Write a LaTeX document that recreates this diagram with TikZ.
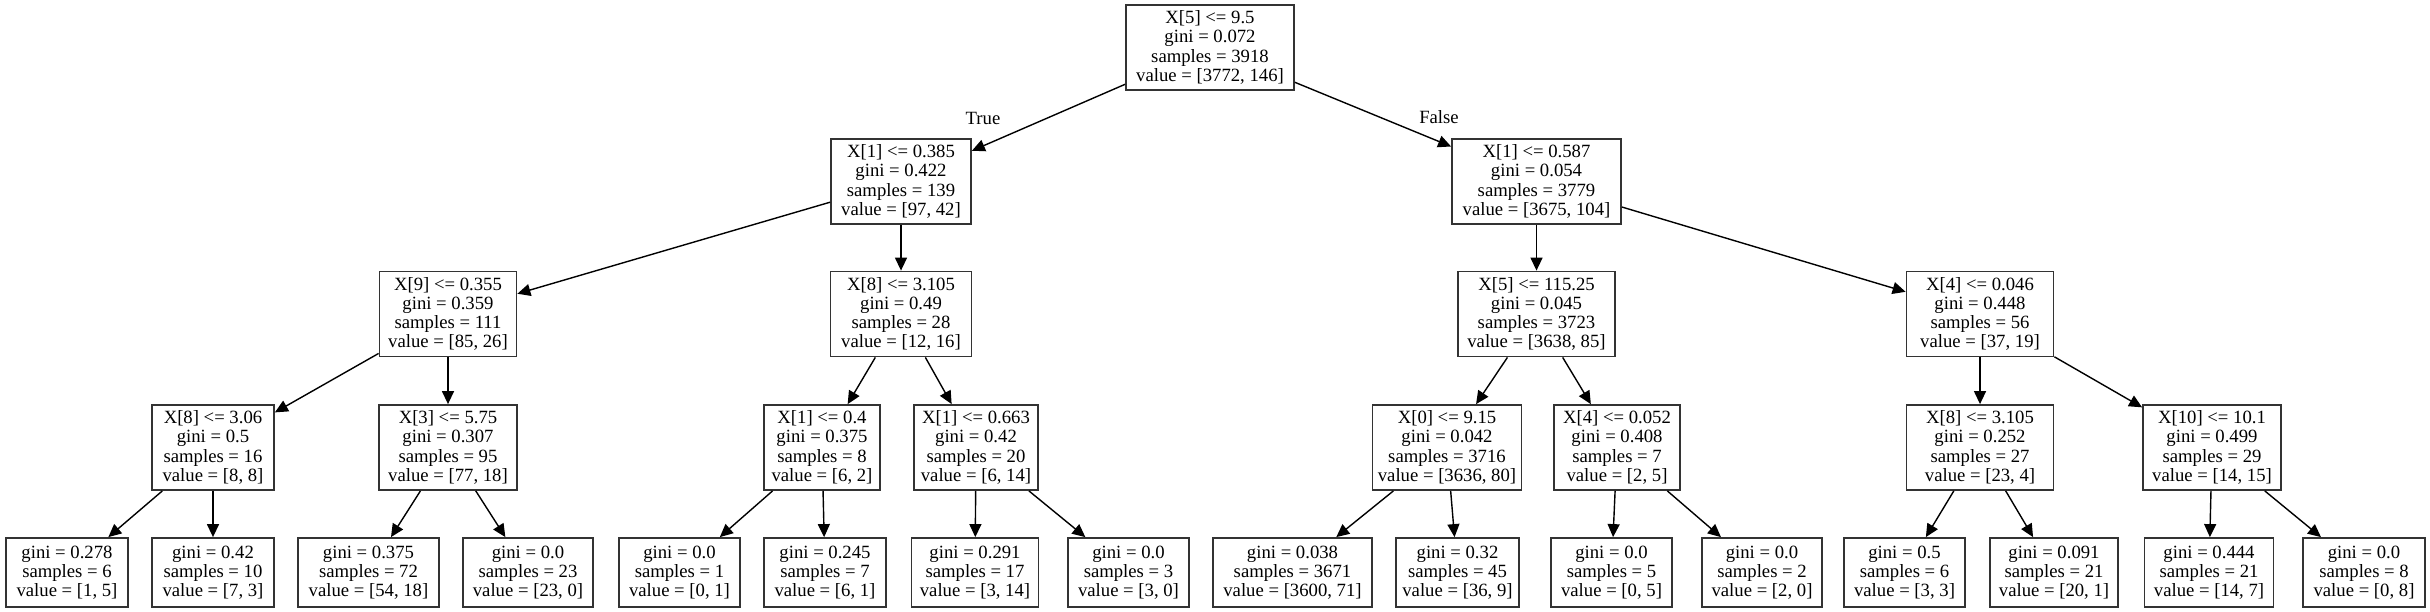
\documentclass[tikz,border=0pt]{standalone}
\usepackage{fontspec}
\setmainfont{Liberation Serif}
\usetikzlibrary{arrows.meta}
\tikzset{
  tbox/.style={draw=black!80, line width=0.9pt, rectangle, align=center, inner sep=0pt,
    font=\fontsize{9.35}{9.6}\selectfont, fill=white},
  inner/.style={tbox, minimum height=42.5pt},
  leaf/.style={tbox, minimum height=34.5pt},
  edge/.style={draw=black, line width=0.7pt, -{Triangle[length=6.5pt,width=6pt]}},
  lbl/.style={font=\fontsize{9.35}{9.6}\selectfont, inner sep=0pt}
}
\begin{document}
\begin{tikzpicture}[x=0.5pt,y=-0.5pt]
\useasboundingbox[fill=white] (0,0) rectangle (2430,611);
% level 0
\node[inner, minimum width=84pt] (root) at (1210,47.5) {X[5] <= 9.5\\gini = 0.072\\samples = 3918\\value = [3772, 146]};
% level 1
\node[inner, minimum width=70pt] (la) at (901,181.5) {X[1] <= 0.385\\gini = 0.422\\samples = 139\\value = [97, 42]};
\node[inner, minimum width=84.5pt] (lb) at (1536.5,181.5) {X[1] <= 0.587\\gini = 0.054\\samples = 3779\\value = [3675, 104]};
% level 2
\node[inner, minimum width=68.5pt] (A) at (448,314) {X[9] <= 0.355\\gini = 0.359\\samples = 111\\value = [85, 26]};
\node[inner, minimum width=70.5pt] (B) at (901,314) {X[8] <= 3.105\\gini = 0.49\\samples = 28\\value = [12, 16]};
\node[inner, minimum width=78.5pt] (C) at (1536.5,314) {X[5] <= 115.25\\gini = 0.045\\samples = 3723\\value = [3638, 85]};
\node[inner, minimum width=73.5pt] (D) at (1980,314) {X[4] <= 0.046\\gini = 0.448\\samples = 56\\value = [37, 19]};
% level 3
\node[inner, minimum width=61pt] (E) at (213,447.5) {X[8] <= 3.06\\gini = 0.5\\samples = 16\\value = [8, 8]};
\node[inner, minimum width=69pt] (F) at (448,447.5) {X[3] <= 5.75\\gini = 0.307\\samples = 95\\value = [77, 18]};
\node[inner, minimum width=58pt] (G) at (822,447.5) {X[1] <= 0.4\\gini = 0.375\\samples = 8\\value = [6, 2]};
\node[inner, minimum width=62pt] (H) at (976,447.5) {X[1] <= 0.663\\gini = 0.42\\samples = 20\\value = [6, 14]};
\node[inner, minimum width=74.5pt] (I) at (1447,447.5) {X[0] <= 9.15\\gini = 0.042\\samples = 3716\\value = [3636, 80]};
\node[inner, minimum width=63pt] (J) at (1617,447.5) {X[4] <= 0.052\\gini = 0.408\\samples = 7\\value = [2, 5]};
\node[inner, minimum width=73.5pt] (K) at (1980,447.5) {X[8] <= 3.105\\gini = 0.252\\samples = 27\\value = [23, 4]};
\node[inner, minimum width=69pt] (L) at (2212,447.5) {X[10] <= 10.1\\gini = 0.499\\samples = 29\\value = [14, 15]};
% leaves
\node[leaf, minimum width=61pt] (l1) at (67,572.5) {gini = 0.278\\samples = 6\\value = [1, 5]};
\node[leaf, minimum width=61pt] (l2) at (213,572.5) {gini = 0.42\\samples = 10\\value = [7, 3]};
\node[leaf, minimum width=70.5pt] (l3) at (368.5,572.5) {gini = 0.375\\samples = 72\\value = [54, 18]};
\node[leaf, minimum width=65pt] (l4) at (528,572.5) {gini = 0.0\\samples = 23\\value = [23, 0]};
\node[leaf, minimum width=60.5pt] (l5) at (679.5,572.5) {gini = 0.0\\samples = 1\\value = [0, 1]};
\node[leaf, minimum width=61pt] (l6) at (825,572.5) {gini = 0.245\\samples = 7\\value = [6, 1]};
\node[leaf, minimum width=63.5pt] (l7) at (975,572.5) {gini = 0.291\\samples = 17\\value = [3, 14]};
\node[leaf, minimum width=60.5pt] (l8) at (1128.5,572.5) {gini = 0.0\\samples = 3\\value = [3, 0]};
\node[leaf, minimum width=79.5pt] (l9) at (1292.5,572.5) {gini = 0.038\\samples = 3671\\value = [3600, 71]};
\node[leaf, minimum width=61.5pt] (l10) at (1457.5,572.5) {gini = 0.32\\samples = 45\\value = [36, 9]};
\node[leaf, minimum width=60.5pt] (l11) at (1611.5,572.5) {gini = 0.0\\samples = 5\\value = [0, 5]};
\node[leaf, minimum width=60pt] (l12) at (1762,572.5) {gini = 0.0\\samples = 2\\value = [2, 0]};
\node[leaf, minimum width=60.5pt] (l13) at (1904.5,572.5) {gini = 0.5\\samples = 6\\value = [3, 3]};
\node[leaf, minimum width=64pt] (l14) at (2054,572.5) {gini = 0.091\\samples = 21\\value = [20, 1]};
\node[leaf, minimum width=64.5pt] (l15) at (2209,572.5) {gini = 0.444\\samples = 21\\value = [14, 7]};
\node[leaf, minimum width=61pt] (l16) at (2364,572.5) {gini = 0.0\\samples = 8\\value = [0, 8]};
% edges
\draw[edge] (root) -- (la);
\draw[edge] (root) -- (lb);
\draw[edge] (la) -- (A);
\draw[edge] (la) -- (B);
\draw[edge] (lb) -- (C);
\draw[edge] (lb) -- (D);
\draw[edge] (A) -- (E);
\draw[edge] (A) -- (F);
\draw[edge] (B) -- (G);
\draw[edge] (B) -- (H);
\draw[edge] (C) -- (I);
\draw[edge] (C) -- (J);
\draw[edge] (D) -- (K);
\draw[edge] (D) -- (L);
\draw[edge] (E) -- (l1);
\draw[edge] (E) -- (l2);
\draw[edge] (F) -- (l3);
\draw[edge] (F) -- (l4);
\draw[edge] (G) -- (l5);
\draw[edge] (G) -- (l6);
\draw[edge] (H) -- (l7);
\draw[edge] (H) -- (l8);
\draw[edge] (I) -- (l9);
\draw[edge] (I) -- (l10);
\draw[edge] (J) -- (l11);
\draw[edge] (J) -- (l12);
\draw[edge] (K) -- (l13);
\draw[edge] (K) -- (l14);
\draw[edge] (L) -- (l15);
\draw[edge] (L) -- (l16);
% edge labels
\node[lbl] (tlab) at (983,118) {True};
\node[lbl] (flab) at (1439,117) {False};
\end{tikzpicture}
\end{document}
